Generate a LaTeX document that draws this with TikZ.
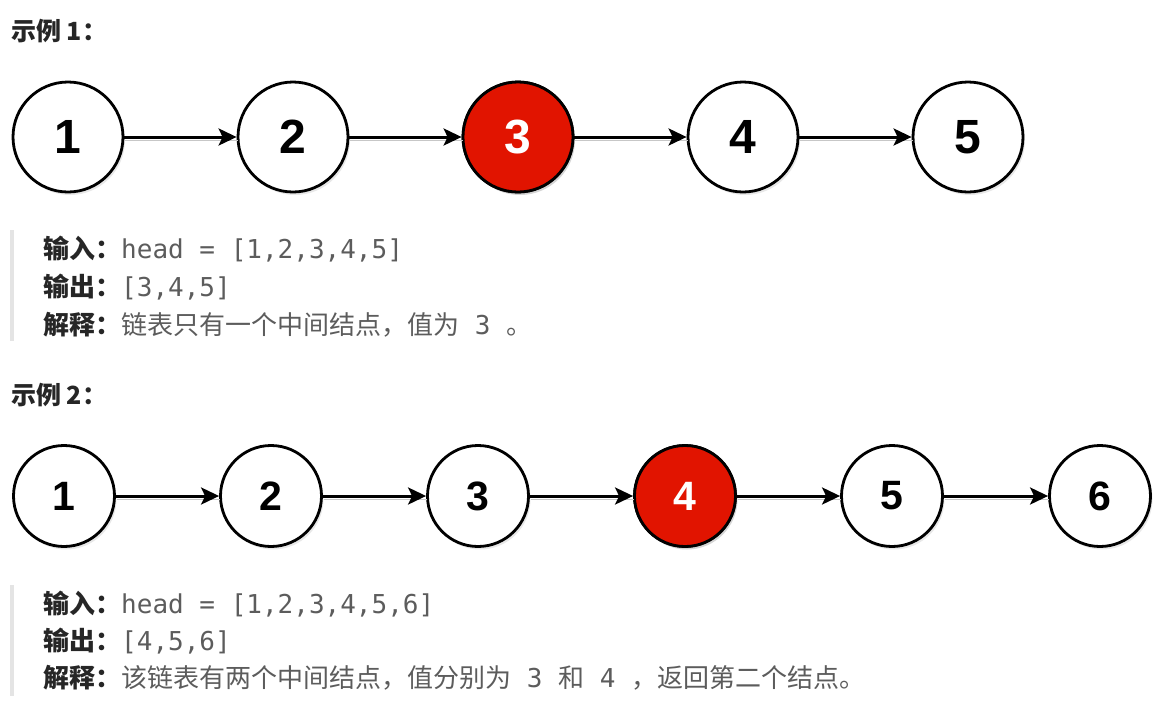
\documentclass[tikz,border=0pt]{standalone}
\usepackage{fontspec}
\usetikzlibrary{arrows.meta}
\usetikzlibrary{shadows}
\newfontfamily\cjk{Noto Sans CJK SC}
\newfontfamily\code{DejaVu Sans Mono}
\newfontfamily\numfont{Liberation Sans}
\definecolor{nodered}{RGB}{225,20,0}
\definecolor{labelgray}{RGB}{38,38,38}
\definecolor{textgray}{RGB}{92,92,92}
\definecolor{bargray}{RGB}{228,228,228}

\tikzset{
  circ/.style={circle, draw=black, line width=2.8pt, fill=white, inner sep=0pt,
    font=\numfont\bfseries\fontsize{48}{48}\selectfont,
    drop shadow={shadow xshift=2pt, shadow yshift=-3pt, opacity=0.18}},
  small/.style={minimum size=101pt, font=\numfont\bfseries\fontsize{41}{41}\selectfont},
  big/.style={minimum size=110pt},
  hot/.style={fill=nodered, text=white},
  link/.style={-{Stealth[length=18pt,width=17pt,inset=4pt]}, line width=3pt,
    preaction={draw=black!22, -, transform canvas={shift={(1pt,-3pt)}}}},
  line/.style={anchor=base west, inner sep=0pt, text=textgray,
    font=\cjk\fontsize{26}{26}\selectfont},
  head/.style={anchor=base west, inner sep=0pt, text=labelgray,
    font=\cjk\bfseries\fontsize{25}{25}\selectfont}
}
\newcommand{\lab}[1]{{\color{labelgray}\bfseries #1}}
\newcommand{\cod}[1]{{\code\fontsize{26}{26}\selectfont #1}}

\begin{document}
\begin{tikzpicture}[x=1pt, y=-1pt]
  \useasboundingbox (0,0) rectangle (1170,726);

  % Example 1
  \node[head] (h1) at (11,40) {示例 1：};
  \foreach \i/\x in {1/68,2/293,3/518,4/743,5/968} {
    \node[circ, big] (a\i) at (\x,137) {\i};
  }
  \node[circ, big, hot] at (a3) {3};
  \foreach \i/\j in {1/2,2/3,3/4,4/5} {
    \draw[link] (a\i) -- (a\j);
  }
  \fill[bargray] (10,230) rectangle (14,341);
  \node[line] (in1) at (43,258) {\lab{输入：}\cod{head = [1,2,3,4,5]}};
  \node[line] (out1) at (43,296) {\lab{输出：}\cod{[3,4,5]}};
  \node[line] (ex1) at (43,334) {\lab{解释：}链表只有一个中间结点，值为\cod{ 3 }。};

  % Example 2
  \node[head] (h2) at (11,404) {示例 2：};
  \foreach \i/\x in {1/64,2/271,3/478,4/685,5/892,6/1100} {
    \node[circ, small] (b\i) at (\x,496) {\i};
  }
  \node[circ, small, hot] at (b4) {4};
  \foreach \i/\j in {1/2,2/3,3/4,4/5,5/6} {
    \draw[link] (b\i) -- (b\j);
  }
  \fill[bargray] (10,585) rectangle (14,696);
  \node[line] (in2) at (43,613) {\lab{输入：}\cod{head = [1,2,3,4,5,6]}};
  \node[line] (out2) at (43,650) {\lab{输出：}\cod{[4,5,6]}};
  \node[line] (ex2) at (43,687) {\lab{解释：}该链表有两个中间结点，值分别为\cod{ 3 }和\cod{ 4 }，返回第二个结点。};
\end{tikzpicture}
\end{document}
